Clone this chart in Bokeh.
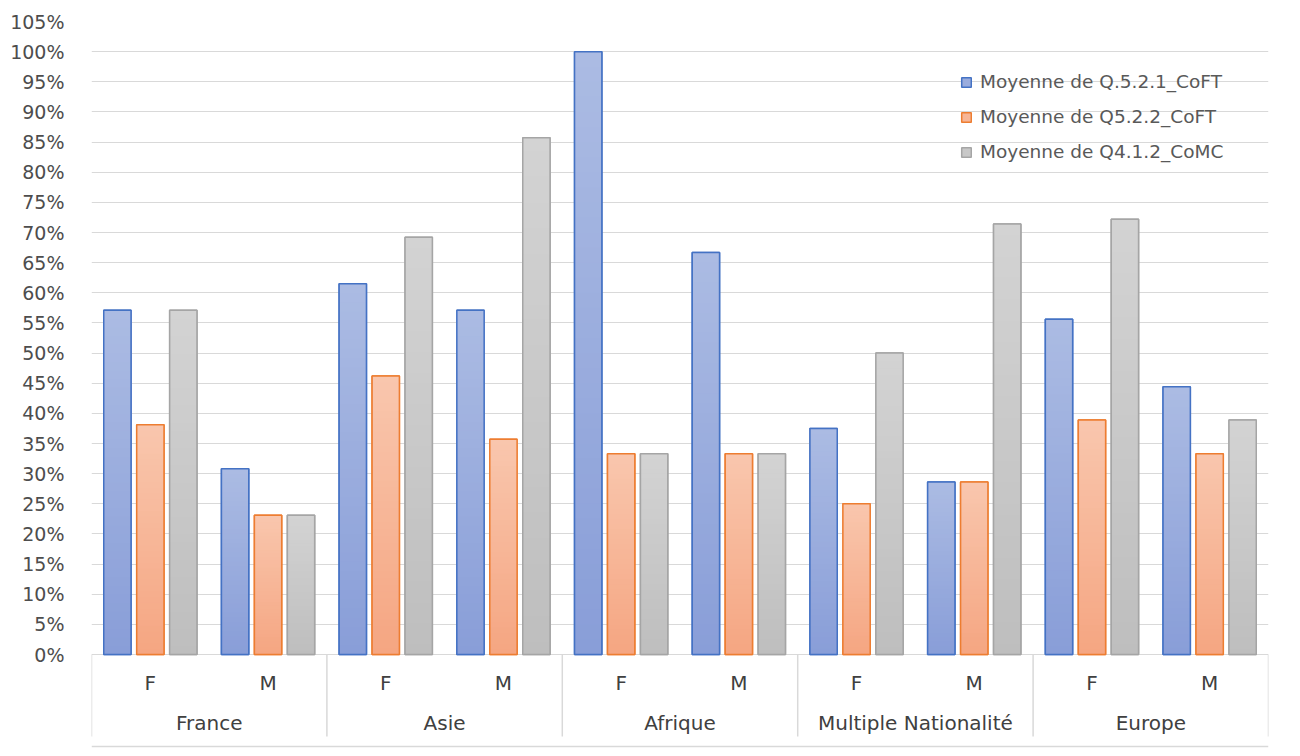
from bokeh.plotting import figure
from bokeh.models import (FactorRange, Range1d, ColumnDataSource, FixedTicker,
                          CustomJSTickFormatter, Legend, LegendItem, Span)
from bokeh.transform import dodge
from bokeh.core.properties import value
from bokeh.embed import file_html
from bokeh.resources import INLINE

# ---- data ----
regions = ["France", "Asie", "Afrique", "Multiple Nationalité", "Europe"]
sexes = ["F", "M"]
series_names = ["Moyenne de Q.5.2.1_CoFT", "Moyenne de Q5.2.2_CoFT", "Moyenne de Q4.1.2_CoMC"]
q521 = [57.1, 30.8, 61.5, 57.1, 100.0, 66.7, 37.5, 28.6, 55.6, 44.4]
q522 = [38.1, 23.1, 46.2, 35.7, 33.3, 33.3, 25.0, 28.6, 38.9, 33.3]
q412 = [57.1, 23.1, 69.2, 85.7, 33.3, 33.3, 50.0, 71.4, 72.2, 38.9]
y_ticks = list(range(0, 110, 5))

FONT = "DejaVu Sans"
factors = [(r, s) for r in regions for s in sexes]

p = figure(width=1292, height=748,
           x_range=FactorRange(*factors, group_padding=0, subgroup_padding=0, range_padding=0),
           y_range=Range1d(-15.59, 105),
           x_axis_location=None,
           output_backend="svg", toolbar_location=None,
           min_border_left=91, min_border_right=24, min_border_top=21, min_border_bottom=0)
p.outline_line_color = None
p.background_fill_color = "white"
for g in p.xgrid:
    g.visible = False

ax = p.yaxis[0]
ax.ticker = FixedTicker(ticks=y_ticks)
ax.formatter = CustomJSTickFormatter(code="return tick.toFixed(0) + '%';")
ax.axis_line_color = None
ax.major_tick_line_color = None
ax.minor_tick_line_color = None
ax.major_label_standoff = 21
ax.major_label_text_font = FONT
ax.major_label_text_font_size = "19px"
ax.major_label_text_color = "#4d4d4d"
p.ygrid.grid_line_color = "#D9D9D9"
p.ygrid.grid_line_width = 1.2

offsets = [-0.28, 0.0, 0.28]
bw = 0.232
styles = [
    ((137, 158, 216), (171, 187, 227), "#4472C4"),
    ((245, 166, 130), (249, 198, 173), "#ED7D31"),
    ((190, 190, 190), (211, 211, 211), "#A5A5A5"),
]
N = 40
legend_items = []
for k, vals in enumerate([q521, q522, q412]):
    cb, ct, outline = styles[k]
    mid = "#%02x%02x%02x" % tuple(int((a + b) / 2) for a, b in zip(cb, ct))
    xcoord = dodge("x", offsets[k], range=p.x_range)
    src = ColumnDataSource(dict(x=factors, top=vals))
    solid = p.vbar(x=xcoord, top="top", width=bw, source=src,
                   fill_color=mid, line_color=outline, line_width=1.5)
    xs, bots, tops, cols = [], [], [], []
    for i in range(N):
        t = i / (N - 1)
        col = "#%02x%02x%02x" % tuple(int(round(a + (b - a) * t)) for a, b in zip(cb, ct))
        for f, v in zip(factors, vals):
            xs.append(f); bots.append(v * i / N); tops.append(v); cols.append(col)
    gsrc = ColumnDataSource(dict(x=xs, bottom=bots, top=tops, color=cols))
    p.vbar(x=xcoord, bottom="bottom", top="top", width=bw, source=gsrc,
           fill_color="color", line_color=None)
    p.vbar(x=xcoord, top="top", width=bw, source=src,
           fill_alpha=0, line_color=outline, line_width=1.5)
    legend_items.append(LegendItem(label=series_names[k], renderers=[solid]))

# category axis labels (two levels) and separators
p.text(x=factors, y=[-4.8] * len(factors), text=[s for _, s in factors],
       text_font=value(FONT), text_font_size="20px", text_color="#404040",
       text_align="center", text_baseline="middle")
p.text(x=regions, y=[-11.3] * len(regions), text=regions,
       text_font=value(FONT), text_font_size="20px", text_color="#404040",
       text_align="center", text_baseline="middle")
sep_x = [(r, "F", -0.5) for r in regions] + [(regions[-1], "M", 0.5)]
p.segment(x0=sep_x, y0=[0] * len(sep_x), x1=sep_x, y1=[-13.6] * len(sep_x),
          line_color="#D9D9D9", line_width=1.5)
p.add_layout(Span(location=-15.26, dimension="width", line_color="#D9D9D9", line_width=1.5))

legend = Legend(items=legend_items, location=(869, 586), orientation="vertical",
                border_line_color=None, background_fill_alpha=0,
                padding=0, margin=0, spacing=14, glyph_width=12, glyph_height=12,
                label_standoff=8, label_height=20,
                label_text_font=FONT, label_text_font_size="18.5px",
                label_text_color="#595959")
p.add_layout(legend)

open("out.html", "w").write(file_html(p, INLINE))
